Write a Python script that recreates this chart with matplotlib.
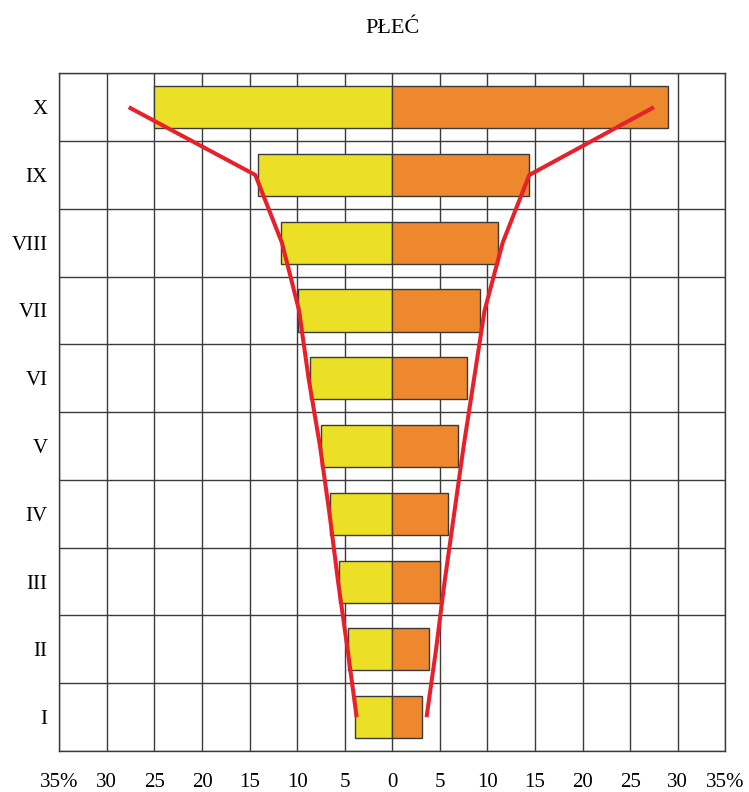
import matplotlib
matplotlib.use("Agg")
import matplotlib.pyplot as plt
import numpy as np

categories = ["X", "IX", "VIII", "VII", "VI", "V", "IV", "III", "II", "I"]
left_values = [25.0, 14.1, 11.7, 9.9, 8.7, 7.5, 6.5, 5.6, 4.7, 3.9]
right_values = [29.0, 14.4, 11.1, 9.2, 7.9, 6.9, 5.9, 5.0, 3.9, 3.1]
left_line = [27.7, 14.4, 11.6, 9.8, 8.8, 7.6, 6.6, 5.7, 4.7, 3.75]
right_line = [27.5, 14.4, 11.6, 9.7, 8.6, 7.5, 6.5, 5.5, 4.6, 3.6]
tick_values = [-35, -30, -25, -20, -15, -10, -5, 0, 5, 10, 15, 20, 25, 30, 35]
tick_labels = ["35%", "30", "25", "20", "15", "10", "5", "0", "5", "10", "15", "20", "25", "30", "35%"]
title = "PŁEĆ"

plt.rcParams['font.family'] = ['Liberation Serif', 'DejaVu Serif']

fig = plt.figure(figsize=(7.49, 7.92), dpi=100)
ax = fig.add_axes([59.3/749, 1-751/792, (725.3-59.3)/749, (751-73.3)/792])

n = len(categories)
y = np.arange(n)[::-1] + 0.5  # X at top

ax.barh(y, [-v for v in left_values], height=0.62, color="#EBE026",
        edgecolor="#3a3a3a", linewidth=1.0, zorder=3)
ax.barh(y, right_values, height=0.62, color="#EE882E",
        edgecolor="#3a3a3a", linewidth=1.0, zorder=3)

ax.plot([-v for v in left_line], y, color="#E8202A", linewidth=2.9, zorder=4,
        solid_capstyle="butt")
ax.plot(right_line, y, color="#E8202A", linewidth=2.9, zorder=4,
        solid_capstyle="butt")

ax.set_xlim(-35, 35)
ax.set_ylim(0, n)

# grid
for t in tick_values:
    ax.axvline(t, color="#3a3a3a", linewidth=1.0, zorder=1)
for k in range(n + 1):
    ax.axhline(k, color="#3a3a3a", linewidth=1.0, zorder=1)

ax.set_xticks(tick_values)
ax.set_xticklabels(tick_labels, fontsize=15)
ax.set_yticks(y)
ax.set_yticklabels(categories, fontsize=15)
ax.tick_params(axis="x", length=0, pad=16)
ax.tick_params(axis="y", length=0, pad=8.5)
for s in ax.spines.values():
    s.set_color("#3a3a3a")
    s.set_linewidth(1.0)

ax.set_title(title, fontsize=16, pad=29)

fig.savefig("out.png", dpi=100)
